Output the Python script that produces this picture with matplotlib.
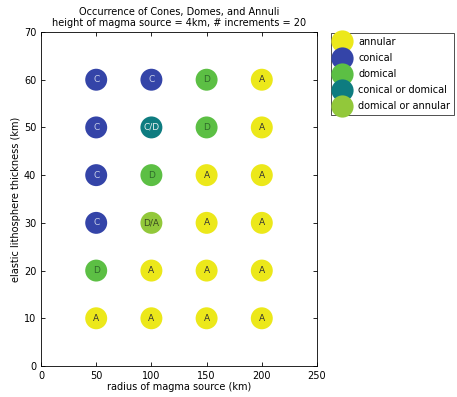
import matplotlib
matplotlib.use("Agg")
import matplotlib.pyplot as plt
from matplotlib.lines import Line2D

radius = [50, 100, 150, 200]
thickness = [60, 50, 40, 30, 20, 10]
grid = [
    ["C", "C", "D", "A"],
    ["C", "C/D", "D", "A"],
    ["C", "D", "A", "A"],
    ["C", "D/A", "A", "A"],
    ["D", "A", "A", "A"],
    ["A", "A", "A", "A"],
]
legend_labels = ["annular", "conical", "domical", "conical or domical", "domical or annular"]
codes = ["A", "C", "D", "C/D", "D/A"]
colors = {"A": "#ece81a", "C": "#3444a8", "D": "#5cbf44", "C/D": "#0e7c80", "D/A": "#92c83a"}
text_colors = {"A": "#333333", "C": "#c8d0e8", "D": "#2f6a2a", "C/D": "#e8f0f0", "D/A": "#3a4a20"}

fig = plt.figure(figsize=(4.57, 3.97), dpi=100)
ax = fig.add_axes([41/457, 1-366/397, 276/457, 334/397])

for yi, row in zip(thickness, grid):
    for xi, code in zip(radius, row):
        ax.scatter([xi], [yi], s=250, color=colors[code], edgecolors="none", zorder=2)
        ax.text(xi, yi, code, ha="center", va="center", fontsize=6.5,
                color=text_colors[code], zorder=3)

ax.set_xlim(0, 250)
ax.set_ylim(0, 70)
ax.set_xticks([0, 50, 100, 150, 200, 250])
ax.set_yticks([0, 10, 20, 30, 40, 50, 60, 70])
ax.tick_params(direction="in", top=True, right=True, labelsize=7, length=3, width=0.6)
for s in ax.spines.values():
    s.set_linewidth(0.6)
ax.set_xlabel("radius of magma source (km)", fontsize=7, labelpad=1)
ax.set_ylabel("elastic lithosphere thickness (km)", fontsize=7, labelpad=2)
ax.set_title("Occurrence of Cones, Domes, and Annuli\nheight of magma source = 4km, # increments = 20",
             fontsize=7, pad=4, linespacing=1.2)

handles = [Line2D([], [], marker="o", linestyle="none", markersize=16,
                  markerfacecolor=colors[c], markeredgecolor="none") for c in codes]
leg = fig.legend(handles, legend_labels, loc="upper left", bbox_to_anchor=(331/457, 1-33/397),
                 fontsize=7, frameon=True, fancybox=False, edgecolor="black",
                 borderpad=0.4, labelspacing=0.62, handlelength=1.4, handletextpad=1.0,
                 borderaxespad=0)
leg.get_frame().set_linewidth(0.6)

fig.savefig("out.png", dpi=100)
